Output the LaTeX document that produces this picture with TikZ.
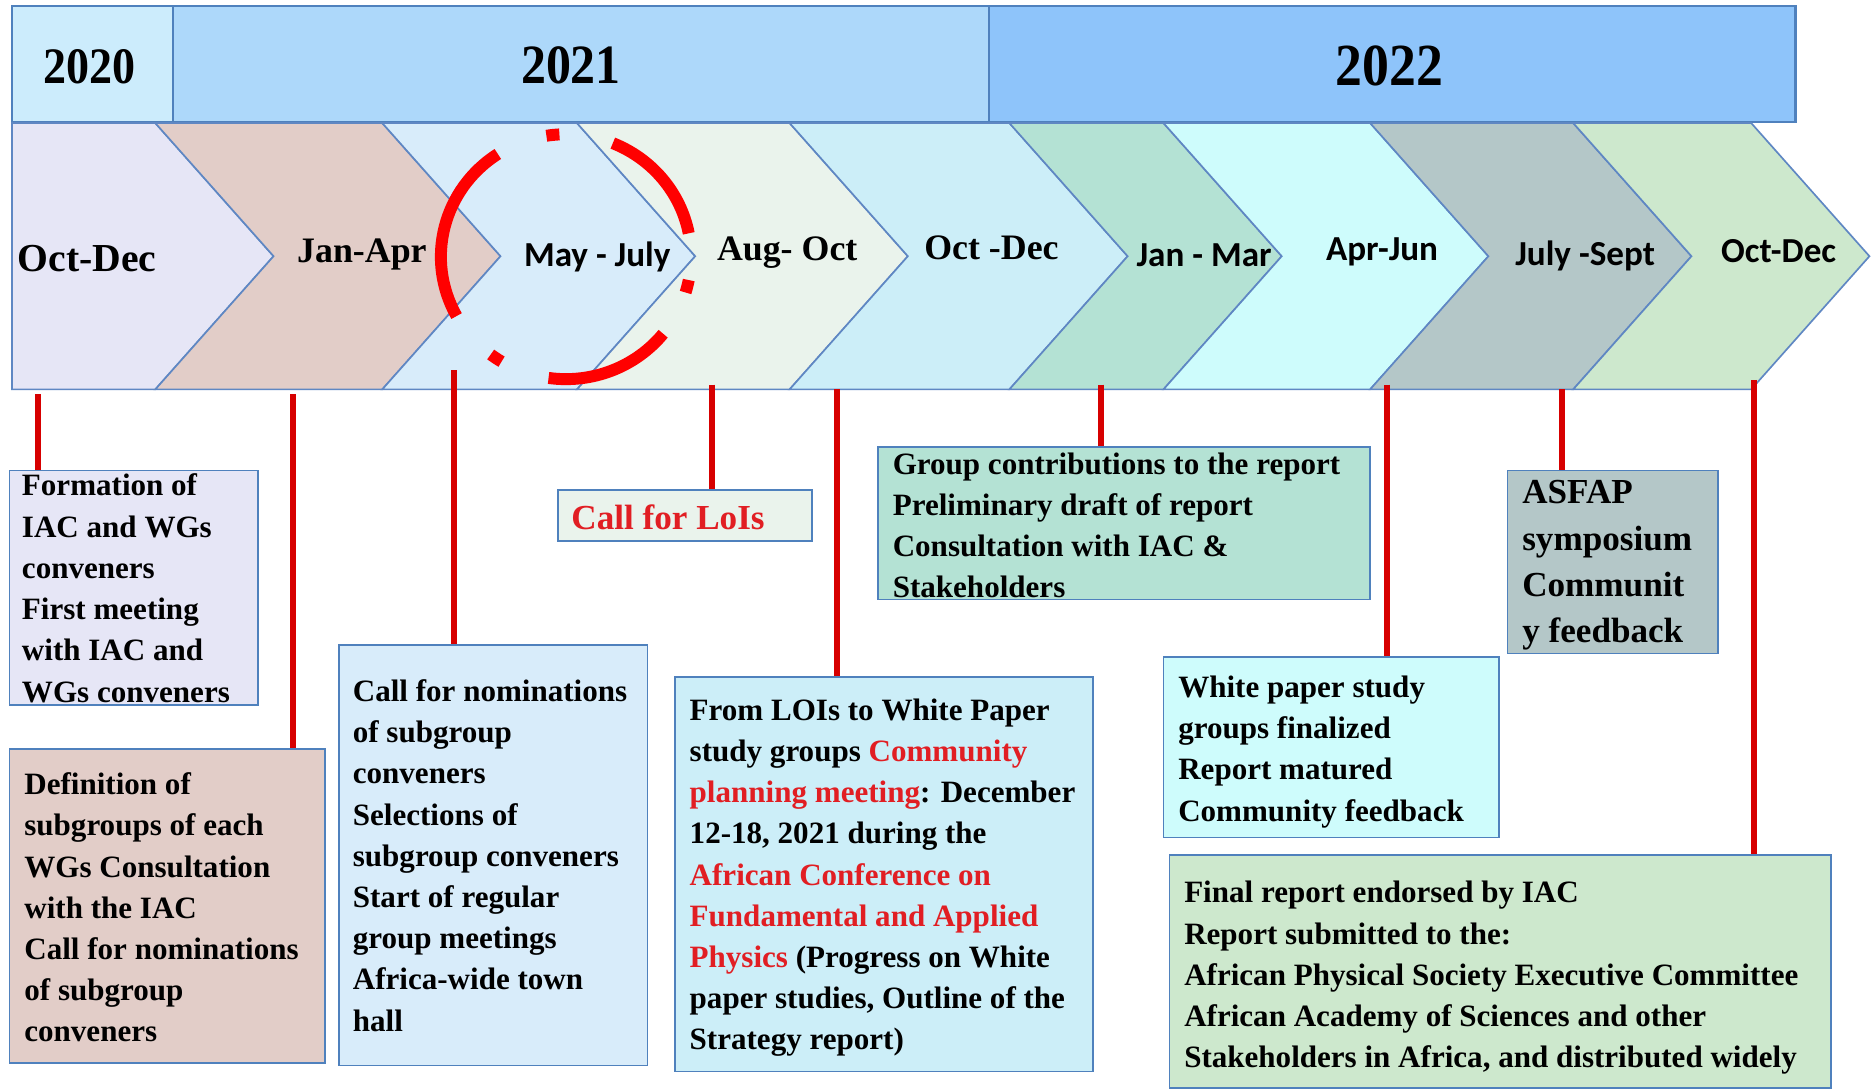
\documentclass[tikz,border=0pt]{standalone}
\usepackage{fontspec}
\setmainfont{Liberation Serif}
\newfontfamily\yearfont{Liberation Serif}[FakeStretch=0.9]
\newfontfamily\calfont{Carlito}
\usetikzlibrary{fit}
\definecolor{bord}{RGB}{79,129,189}
\definecolor{chevb}{RGB}{95,135,195}
\definecolor{yA}{RGB}{204,236,252}
\definecolor{yB}{RGB}{173,216,250}
\definecolor{yC}{RGB}{142,196,250}
\definecolor{cA}{RGB}{230,230,246}
\definecolor{cB}{RGB}{226,205,200}
\definecolor{cC}{RGB}{216,236,250}
\definecolor{cD}{RGB}{234,243,236}
\definecolor{cE}{RGB}{204,238,248}
\definecolor{cF}{RGB}{180,226,212}
\definecolor{cG}{RGB}{206,252,252}
\definecolor{cH}{RGB}{180,199,200}
\definecolor{cI}{RGB}{205,232,205}
\definecolor{lnkred}{RGB}{215,0,0}
\definecolor{txtred}{RGB}{225,30,35}
\definecolor{circred}{RGB}{255,0,0}
\newcommand{\rt}[1]{\textcolor{txtred}{#1}}
\newcommand{\chevshape}[3]{\filldraw[chev,fill=#3] (#1,103) -- (#2,103) -- ({#2+99},214.5) -- (#2,326) -- (#1,326) -- ({#1+99},214.5) -- cycle;}
\tikzset{
  yearbox/.style={draw=bord, line width=1pt, inner sep=0pt},
  yearlab/.style={anchor=base, inner sep=0pt, font=\yearfont\bfseries},
  chev/.style={draw=chevb, line width=0.7pt},
  serlab/.style={anchor=base, inner sep=0pt, font=\bfseries\fontsize{15}{18}\selectfont},
  sanlab/.style={anchor=base, inner sep=0pt, font=\calfont\bfseries\fontsize{14.7}{18}\selectfont},
  infobox/.style={draw=bord, line width=0.7pt, inner sep=0pt},
  boxtext/.style={anchor=north west, inner sep=0pt, align=left, font=\bfseries\fontsize{13}{17.25}\selectfont},
  lnk/.style={draw=lnkred, line width=2.5pt},
  circseg/.style={draw=circred, line width=5pt}
}
\begin{document}
\begin{tikzpicture}[x=0.5pt,y=-0.5pt]
\useasboundingbox (0,0) rectangle (1568,913);
\fill[white] (0,0) rectangle (1568,913);

% year bar
\node[yearbox, fill=yA, fit={(10,5) (145,102)}] (y2020) {};
\node[yearbox, fill=yB, fit={(145,5) (828,102)}] (y2021) {};
\node[yearbox, fill=yC, fit={(828,5) (1503,102)}] (y2022) {};
\node[yearlab, font=\yearfont\bfseries\fontsize{21.4}{24}\selectfont] (t2020) at (75,70) {2020};
\node[yearlab, font=\yearfont\bfseries\fontsize{23.2}{26}\selectfont] (t2021) at (478,70) {2021};
\node[yearlab, font=\yearfont\bfseries\fontsize{25}{28}\selectfont] (t2022) at (1163,72) {2022};

% chevrons
\filldraw[chev, fill=cA] (10,103) -- (130,103) -- (229,214.5) -- (130,326) -- (10,326) -- cycle;
\chevshape{130}{320}{cB}
\chevshape{320}{483}{cC}
\chevshape{483}{661}{cD}
\chevshape{661}{845}{cE}
\chevshape{845}{974}{cF}
\chevshape{974}{1147}{cG}
\chevshape{1147}{1317}{cH}
\chevshape{1317}{1466}{cI}

% period labels
\node[serlab, font=\bfseries\fontsize{16.6}{20}\selectfont] (m1) at (73,227) {Oct-Dec};
\node[serlab] (m2) at (303,220) {Jan-Apr};
\node[sanlab] (m3) at (500,223) {May - July};
\node[serlab] (m4) at (659,218) {Aug- Oct};
\node[serlab] (m5) at (830,217) {Oct -Dec};
\node[sanlab] (m6) at (1008,223) {Jan - Mar};
\node[sanlab] (m7) at (1157,218) {Apr-Jun};
\node[sanlab] (m8) at (1327,222) {July -Sept};
\node[sanlab] (m9) at (1489,220) {Oct-Dec};

% connector start points on the chevron row
\coordinate (k1) at (32,330);
\coordinate (k2) at (245,330);
\coordinate (k3) at (380,310);
\coordinate (k4) at (596,322);
\coordinate (k5) at (701,326);
\coordinate (k6) at (922,322);
\coordinate (k7) at (1161,322);
\coordinate (k8) at (1308,326);
\coordinate (k9) at (1468,318);

% boxes
\node[infobox, fill=cA, fit={(8,394) (216,590)}] (bA) {};
\node[infobox, fill=cB, fit={(8,627) (272,890)}] (bB) {};
\node[infobox, fill=cC, fit={(284,540) (542,892)}] (bC) {};
\node[infobox, fill=cD, fit={(467,410) (680,453)}] (bD) {};
\node[infobox, fill=cE, fit={(565,567) (915,897)}] (bE) {};
\node[infobox, fill=cF, fit={(735,374) (1147,502)}] (bF) {};
\node[infobox, fill=cG, fit={(974,550) (1255,701)}] (bG) {};
\node[infobox, fill=cH, fit={(1262,394) (1438,547)}] (bH) {};
\node[infobox, fill=cI, fit={(979,716) (1533,911)}] (bI) {};

% connectors
\draw[lnk] (k1) -- (k1 |- bA.north);
\draw[lnk] (k2) -- (k2 |- bB.north);
\draw[lnk] (k3) -- (k3 |- bC.north);
\draw[lnk] (k4) -- (k4 |- bD.north);
\draw[lnk] (k5) -- (k5 |- bE.north);
\draw[lnk] (k6) -- (k6 |- bF.north);
\draw[lnk] (k7) -- (k7 |- bG.north);
\draw[lnk] (k8) -- (k8 |- bH.north);
\draw[lnk] (k9) -- (k9 |- bI.north);

% box texts
\node[boxtext] (tA) at (18,396.5) {Formation of\\IAC and WGs\\conveners\\First meeting\\with IAC and\\WGs conveners};
\node[boxtext] (tB) at (20,646.5) {Definition of\\subgroups of each\\WGs Consultation\\with the IAC\\Call for nominations\\of subgroup\\conveners};
\node[boxtext] (tC) at (295,568.5) {Call for nominations\\of subgroup\\conveners\\Selections of\\subgroup conveners\\Start of regular\\group meetings\\Africa-wide town\\hall};
\node[anchor=west, inner sep=0pt, text=txtred, font=\bfseries\fontsize{14.7}{18}\selectfont] (tD) at (478,433) {Call for LoIs};
\node[boxtext] (tE) at (577,584.5) {From LOIs to White Paper\\study groups \rt{Community}\\\rt{planning meeting}: December\\12-18, 2021 during the\\\rt{African Conference on}\\\rt{Fundamental and Applied}\\\rt{Physics} (Progress on White\\paper studies, Outline of the\\Strategy report)};
\node[boxtext] (tF) at (747,378.5) {Group contributions to the report\\Preliminary draft of report\\Consultation with IAC \&\\Stakeholders};
\node[boxtext] (tG) at (986,565.5) {White paper study\\groups finalized\\Report matured\\Community feedback};
\node[boxtext, font=\bfseries\fontsize{14.7}{19.35}\selectfont] (tH) at (1274,402) {ASFAP\\symposium\\Communit\\y feedback};
\node[boxtext] (tI) at (991,737.5) {Final report endorsed by IAC\\Report submitted to the:\\African Physical Society Executive Committee\\African Academy of Sciences and other\\Stakeholders in Africa, and distributed widely};

% red dash-dot circle around May - July
\begin{scope}[shift={(473.8,214.9)}]
\draw[circseg] (-68:104.7 and 102.5) arc[start angle=-68, end angle=-11, x radius=104.7, y radius=102.5];
\draw[circseg] (11:104.7 and 102.5) arc[start angle=11, end angle=17, x radius=104.7, y radius=102.5];
\draw[circseg] (39:104.7 and 102.5) arc[start angle=39, end angle=98, x radius=104.7, y radius=102.5];
\draw[circseg] (121:104.7 and 102.5) arc[start angle=121, end angle=127, x radius=104.7, y radius=102.5];
\draw[circseg] (151:104.7 and 102.5) arc[start angle=151, end angle=237, x radius=104.7, y radius=102.5];
\draw[circseg] (261:104.7 and 102.5) arc[start angle=261, end angle=267, x radius=104.7, y radius=102.5];
\end{scope}
\end{tikzpicture}
\end{document}
